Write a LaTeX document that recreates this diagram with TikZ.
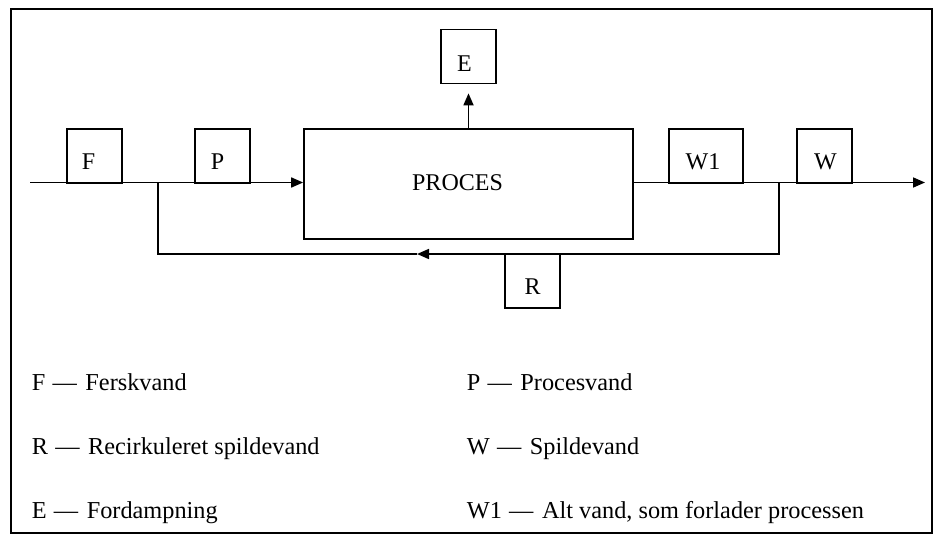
\documentclass[tikz,border=0pt]{standalone}
\usepackage{fontspec}
\setmainfont{Liberation Serif}
\usetikzlibrary{arrows.meta,calc}
\newcommand{\dsh}{\hspace{0.3em}—\hspace{0.35em}}
\begin{document}
\begin{tikzpicture}[x=1pt,y=-1pt,
  line width=1.7pt,
  blk/.style={draw,line width=1.7pt,inner sep=0pt,minimum width=55pt,minimum height=54pt},
  txt/.style={font=\fontsize{24}{28}\selectfont,inner sep=0pt},
  flow/.style={line width=1.7pt},
  tip/.style={-{Triangle[length=12pt,width=10pt]}},
  legend/.style={anchor=base west,inner sep=0pt,font=\fontsize{24.3}{28}\selectfont}]
\fill[white] (0,0) rectangle (941,543);
\useasboundingbox (0,0) rectangle (941,543);
\draw[line width=2pt] (11,9) rectangle (932,533);
% boxes
\node[blk,label={[txt,xshift=-6pt,yshift=-6pt]center:F}] (F) at (94.5,156) {};
\node[blk,label={[txt,xshift=-5pt,yshift=-6pt]center:P}] (P) at (222.5,156) {};
\node[blk,minimum width=329pt,minimum height=110pt,label={[txt,xshift=-11pt,yshift=1pt]center:PROCES}] (PROC) at (468.5,184) {};
\node[blk,label={[txt,xshift=-4pt,yshift=-7pt]center:E}] (E) at (468.5,56.5) {};
\node[blk,minimum width=74pt,label={[txt,xshift=-3pt,yshift=-6pt]center:W1}] (W1) at (706,156) {};
\node[blk,label={[txt,xshift=1pt,yshift=-6pt]center:W}] (W) at (824.5,156) {};
\node[blk,label={[txt,xshift=0pt,yshift=-6pt]center:R}] (R) at (532.5,281) {};
% coordinates
\coordinate (in) at (30,182.5);
\coordinate (out) at (925,182.5);
\coordinate (j1) at (158,182.5);
\coordinate (j2) at (779,182.5);
\coordinate (rc) at (417,254);
% flows
\draw[flow] (in) -- (in -| F.west);
\draw[flow] (j1 -| F.east) -- (j1 -| P.west);
\draw[flow,tip] (j1 -| P.east) -- (j1 -| PROC.west);
\draw[flow] (j2 -| PROC.east) -- (j2 -| W1.west);
\draw[flow] (j2 -| W1.east) -- (j2 -| W.west);
\draw[flow,tip] (j2 -| W.east) -- (out);
\draw[flow,tip,shorten >=9pt] (PROC.north) -- (E.south);
\draw[flow,tip] (j2) |- (rc);
\draw[flow] (rc) -| (j1);
% legend
\node[legend] (l1) at (31,390) {F\dsh Ferskvand};
\node[legend] (l2) at (31,454) {R\dsh Recirkuleret spildevand};
\node[legend] (l3) at (31,518) {E\dsh Fordampning};
\node[legend] (l4) at (466,390) {P\dsh Procesvand};
\node[legend] (l5) at (466,454) {W\dsh Spildevand};
\node[legend] (l6) at (466,518) {W1\dsh Alt vand, som forlader processen};
\end{tikzpicture}
\end{document}
